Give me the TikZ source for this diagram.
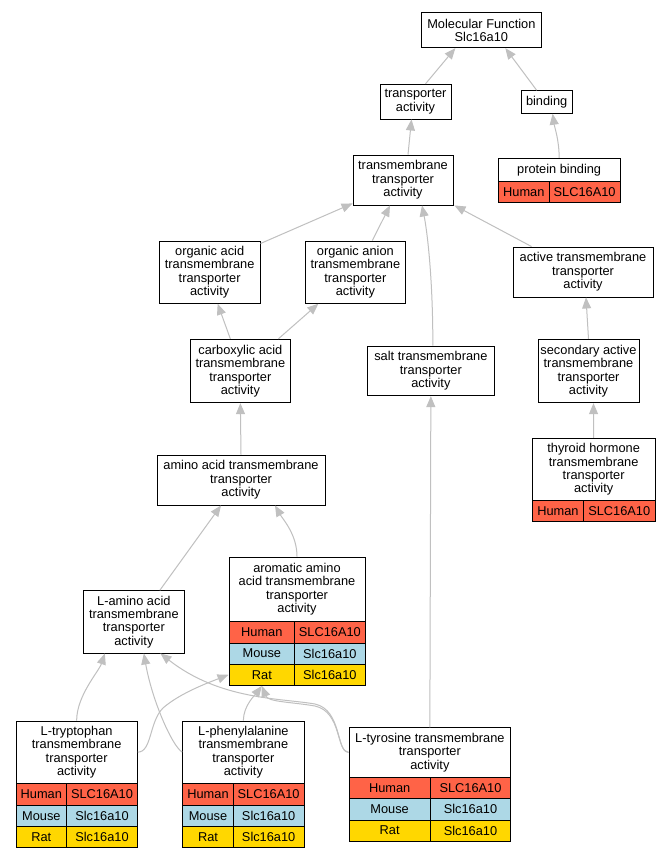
\documentclass[tikz,border=0pt]{standalone}
\usepackage{fontspec}
\setmainfont{Liberation Sans}
\usetikzlibrary{arrows.meta,calc}
\definecolor{edgegray}{RGB}{192,192,192}
\definecolor{human}{RGB}{255,99,71}
\definecolor{mouse}{RGB}{173,216,230}
\definecolor{rat}{RGB}{255,215,0}
\newcommand\gbx[6]{\node[box,minimum width={(#4)-(#2)},minimum height={(#5)-(#3)}] (#1) at ({((#2)+(#4))/2},{((#3)+(#5))/2}) {#6};}
\newcommand\grw[9]{%
\node[cell,fill=#7,minimum width={(#3)-(#2)},minimum height={(#6)-(#5)}] (#1a) at ({((#2)+(#3))/2},{((#5)+(#6))/2}) {#8};
\node[cell,fill=#7,minimum width={(#4)-(#3)},minimum height={(#6)-(#5)}] (#1b) at ({((#3)+(#4))/2},{((#5)+(#6))/2}) {#9};}
\begin{document}
\begin{tikzpicture}[x=1pt,y=-1pt,
 box/.style={draw=black,line width=0.9pt,fill=white,inner sep=0pt,align=center,font=\fontsize{12.8}{13.4}\selectfont},
 cell/.style={draw=black,line width=0.9pt,inner sep=0pt,font=\fontsize{12.8}{13.4}\selectfont},
 edge/.style={draw=edgegray,line width=1pt,-{Triangle[length=11pt,width=9pt,fill=edgegray]}}]
\path[use as bounding box] (0,0) rectangle (671,859);
\fill[white] (0,0) rectangle (671,859);
% plain boxes
\gbx{MF}{421}{12.7}{541.7}{47.7}{Molecular Function\\Slc16a10}
\gbx{ta}{380}{84.3}{451}{119}{transporter\\activity}
\gbx{bind}{521}{90.7}{572.3}{113.3}{binding}
\gbx{tm}{353}{155}{453}{205}{transmembrane\\transporter\\activity}
\gbx{oa}{159.3}{241}{260}{303.3}{organic acid\\transmembrane\\transporter\\activity}
\gbx{oan}{305}{241}{405.7}{303.3}{organic anion\\transmembrane\\transporter\\activity}
\gbx{act}{513}{247}{653}{297}{active transmembrane\\transporter\\activity}
\gbx{carb}{190}{339.3}{290.7}{402.7}{carboxylic acid\\transmembrane\\transporter\\activity}
\gbx{salt}{367.7}{346}{494}{395.7}{salt transmembrane\\transporter\\activity}
\gbx{sec}{538}{339.3}{639}{402.7}{secondary active\\transmembrane\\transporter\\activity}
\gbx{aa}{157}{455}{325}{505}{amino acid transmembrane\\transporter\\activity}
\gbx{lam}{83.7}{590.7}{184}{653}{L-amino acid\\transmembrane\\transporter\\activity}
% table nodes
\gbx{pb}{498.3}{158.3}{620}{181.3}{protein binding}
\grw{pbH}{498.3}{549.3}{620}{181.3}{202.7}{human}{Human}{SLC16A10}
\gbx{thy}{532.3}{438.3}{655}{500.7}{thyroid hormone\\transmembrane\\transporter\\activity}
\grw{thyH}{532.3}{583.5}{655}{500.7}{521.7}{human}{Human}{SLC16A10}
\gbx{arom}{229}{557}{365}{621.5}{aromatic amino\\acid transmembrane\\transporter\\activity}
\grw{aromH}{229}{294.7}{365}{621.5}{643}{human}{Human}{SLC16A10}
\grw{aromM}{229}{294.7}{365}{643}{664}{mouse}{Mouse}{Slc16a10}
\grw{aromR}{229}{294.7}{365}{664}{685.5}{rat}{Rat}{Slc16a10}
\gbx{trp}{16}{721}{137.3}{783.3}{L-tryptophan\\transmembrane\\transporter\\activity}
\grw{trpH}{16}{66.7}{137.3}{783.3}{805}{human}{Human}{SLC16A10}
\grw{trpM}{16}{66.7}{137.3}{805}{826.7}{mouse}{Mouse}{Slc16a10}
\grw{trpR}{16}{66.7}{137.3}{826.7}{847.7}{rat}{Rat}{Slc16a10}
\gbx{phe}{182.7}{721}{304}{783.3}{L-phenylalanine\\transmembrane\\transporter\\activity}
\grw{pheH}{182.7}{233.3}{304}{783.3}{805}{human}{Human}{SLC16A10}
\grw{pheM}{182.7}{233.3}{304}{805}{826.7}{mouse}{Mouse}{Slc16a10}
\grw{pheR}{182.7}{233.3}{304}{826.7}{847.7}{rat}{Rat}{Slc16a10}
\gbx{tyr}{349}{727.7}{510.7}{777}{L-tyrosine transmembrane\\transporter\\activity}
\grw{tyrH}{349}{430.3}{510.7}{777}{798.7}{human}{Human}{SLC16A10}
\grw{tyrM}{349}{430.3}{510.7}{798.7}{820}{mouse}{Mouse}{Slc16a10}
\grw{tyrR}{349}{430.3}{510.7}{820}{841}{rat}{Rat}{Slc16a10}
% edges
\draw[edge] ($(ta.north)+(10,0)$) -- ($(MF.south)+(-26,0)$);
\draw[edge] ($(bind.north)+(-10,0)$) -- ($(MF.south)+(24,0)$);
\draw[edge] ($(tm.north)+(5,0)$) -- ($(ta.south)+(-4,0)$);
\draw[edge] (pb.north) .. controls +(0,-18) and +(2,14) .. ($(bind.south)+(6,0)$);
\draw[edge] ($(oa.north east)+(0,3)$) -- ($(tm.south west)+(0,-2)$);
\draw[edge] ($(oan.north)+(17,0)$) -- ($(tm.south)+(-13,0)$);
\draw[edge] ($(salt.north)+(2,0)$) .. controls +(0,-70) and +(5,25) .. ($(tm.south)+(19,0)$);
\draw[edge] ($(act.north west)+(19,0)$) -- ($(tm.south east)+(1,0)$);
\draw[edge] ($(carb.north)+(-10,0)$) -- ($(oa.south)+(8,0)$);
\draw[edge] ($(carb.north)+(38,0)$) -- ($(oan.south)+(-37,0)$);
\draw[edge] (sec.north) -- ($(act.south)+(3,0)$);
\draw[edge] (thy.north) -- ($(sec.south)+(5,0)$);
\draw[edge] (aa.north) -- (carb.south);
\draw[edge] (tyr.north) -- (salt.south);
\draw[edge] ($(lam.north)+(26,0)$) -- ($(aa.south)+(-20,0)$);
\draw[edge] (arom.north) .. controls +(0,-22) and +(8,14) .. ($(aa.south)+(34,0)$);
\draw[edge] (trp.north) .. controls +(0,-25) and +(-6,18) .. ($(lam.south)+(-29,0)$);
\draw[edge] (trp.east) .. controls (152,752) and (149,722) .. (163,708) .. controls (180,693) and (210,682) .. (aromRa.west);
\draw[edge] (phe.west) .. controls (172,746) and (152,700) .. ($(lam.south)+(10,0)$);
\draw[edge] (phe.north) .. controls +(0,-15) and +(-6,8) .. (aromRa.south);
\draw[edge] (tyr.west) .. controls (336,752) and (342,710) .. (315,704) .. controls (280,698) and (220,700) .. ($(lam.south east)+(-24,0)$);
\draw[edge] (tyr.west) .. controls (336,752) and (342,712) .. (315,706) .. controls (292,702) and (268,702) .. (aromRa.south);
\end{tikzpicture}
\end{document}
